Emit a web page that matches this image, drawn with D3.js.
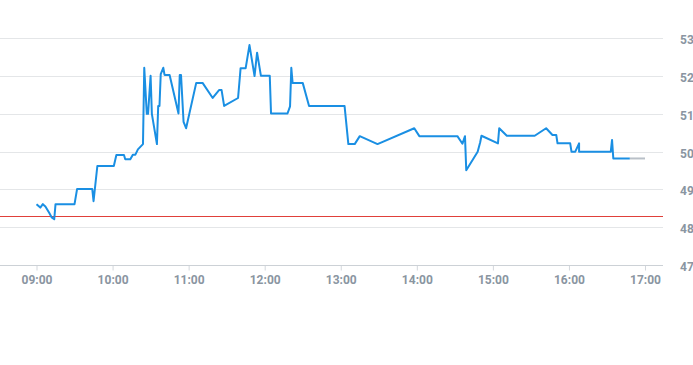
<!DOCTYPE html>
<html lang="en">
<head>
  <title>intraday price</title>
  <script type="text/javascript" src="https://cdnjs.cloudflare.com/ajax/libs/d3/7.8.5/d3.min.js"></script>
  <style>
    body {
      margin: 0px;
      background: #ffffff;
    }
    svg {
      display: block;
    }
    .lbl {
      font-family: "Liberation Sans Narrow", Roboto, "Liberation Sans", sans-serif;
      font-size: 12px;
      font-weight: bold;
      fill: #8a95a1;
    }
  </style>
</head>
<body>
  <script type="text/javascript">
    var width = 693;
    var height = 365;

    // price series (time, value)
    var times = ["09:00", "09:03", "09:05", "09:07", "09:10", "09:12", "09:14", "09:15", "09:30", "09:32",
                 "09:44", "09:45", "09:48", "10:01", "10:03", "10:09", "10:10", "10:14", "10:16", "10:18",
                 "10:20", "10:24", "10:25", "10:27", "10:28", "10:30", "10:31", "10:35", "10:36", "10:37",
                 "10:38", "10:40", "10:41", "10:45", "10:52", "10:53", "10:54", "10:56", "10:58", "11:06",
                 "11:11", "11:19", "11:24", "11:26", "11:28", "11:39", "11:41", "11:45", "11:48", "11:52",
                 "11:54", "11:57", "12:04", "12:05", "12:18", "12:20", "12:21", "12:22", "12:30", "12:35",
                 "13:03", "13:06", "13:11", "13:15", "13:29", "13:58", "14:02", "14:32", "14:36", "14:38",
                 "14:39", "14:48", "14:50", "14:51", "15:04", "15:05", "15:11", "15:33", "15:42", "15:47",
                 "15:50", "15:51", "16:01", "16:02", "16:05", "16:08", "16:08", "16:33", "16:34", "16:35",
                 "16:48"];
    var prices = [48.61, 48.52, 48.61, 48.55, 48.38, 48.26, 48.21, 48.61, 48.61, 49.01,
                  49.01, 48.69, 49.62, 49.62, 49.91, 49.91, 49.80, 49.80, 49.92, 49.92,
                  50.06, 50.20, 52.22, 51.00, 51.00, 52.01, 51.00, 50.20, 51.21, 51.21,
                  52.05, 52.22, 52.03, 52.03, 51.01, 52.03, 52.03, 50.79, 50.62, 51.82,
                  51.82, 51.42, 51.63, 51.63, 51.21, 51.42, 52.21, 52.21, 52.82, 52.00,
                  52.62, 52.01, 52.01, 51.01, 51.01, 51.20, 52.22, 51.82, 51.82, 51.21,
                  51.21, 50.20, 50.20, 50.41, 50.20, 50.62, 50.41, 50.41, 50.21, 50.41,
                  49.51, 50.00, 50.25, 50.42, 50.22, 50.62, 50.42, 50.42, 50.62, 50.44,
                  50.44, 50.22, 50.22, 50.00, 50.00, 50.22, 50.00, 50.00, 50.31, 49.82,
                  49.82];

    // grey tail to the close
    var tailTimes = ["16:48", "17:00"];
    var tailPrices = [49.82, 49.82];

    var refPrice = 48.29;
    var xTicks = ["09:00", "10:00", "11:00", "12:00", "13:00", "14:00", "15:00", "16:00", "17:00"];
    var yTicks = [47, 48, 49, 50, 51, 52, 53];

    var parseTime = d3.timeParse("%H:%M");

    var x = d3.scaleTime()
      .domain([parseTime("09:00"), parseTime("17:00")])
      .range([36.5, 645]);
    var y = d3.scaleLinear()
      .domain([47, 53])
      .range([265, 38.3]);

    var plotRight = 663;

    var svg = d3.select("body").append("svg")
      .attr("width", width)
      .attr("height", height);

    // horizontal grid
    svg.append("g").selectAll("line")
      .data(yTicks.filter(function (d) { return d !== 47; }))
      .enter().append("line")
      .attr("x1", 0).attr("x2", plotRight)
      .attr("y1", function (d) { return Math.round(y(d)) + 0.5; })
      .attr("y2", function (d) { return Math.round(y(d)) + 0.5; })
      .attr("stroke", "#e4e6e8")
      .attr("stroke-width", 1);

    // y labels on the right edge
    svg.append("g").selectAll("text")
      .data(yTicks)
      .enter().append("text")
      .attr("class", "lbl")
      .attr("x", 680)
      .attr("y", function (d) { return y(d) + 6; })
      .text(function (d) { return d; });

    // bottom axis
    var xAxis = d3.axisBottom(x)
      .tickValues(xTicks.map(parseTime))
      .tickFormat(d3.timeFormat("%H:%M"))
      .tickSize(5)
      .tickPadding(5);

    var gx = svg.append("g")
      .attr("transform", "translate(0,265.5)")
      .call(xAxis);
    gx.select(".domain").remove();
    gx.selectAll(".tick line").attr("stroke", "#d3d7dc");
    gx.selectAll(".tick text")
      .attr("class", "lbl")
      .attr("fill", null);
    gx.append("line")
      .attr("x1", 0).attr("x2", plotRight)
      .attr("y1", 0).attr("y2", 0)
      .attr("stroke", "#ccd1d6");

    // reference line
    svg.append("line")
      .attr("x1", 0).attr("x2", plotRight)
      .attr("y1", Math.round(y(refPrice)) + 0.5)
      .attr("y2", Math.round(y(refPrice)) + 0.5)
      .attr("stroke", "#e0403a")
      .attr("stroke-width", 1);

    var line = d3.line()
      .x(function (d) { return x(parseTime(d.t)); })
      .y(function (d) { return y(d.v); });

    var tail = tailTimes.map(function (t, i) { return {t: t, v: tailPrices[i]}; });
    svg.append("path")
      .datum(tail)
      .attr("d", line)
      .attr("fill", "none")
      .attr("stroke", "#b9c0c8")
      .attr("stroke-width", 2);

    var series = times.map(function (t, i) { return {t: t, v: prices[i]}; });
    svg.append("path")
      .datum(series)
      .attr("d", line)
      .attr("fill", "none")
      .attr("stroke", "#1a8fe3")
      .attr("stroke-width", 2)
      .attr("stroke-linejoin", "round");
  </script>
</body>
</html>
